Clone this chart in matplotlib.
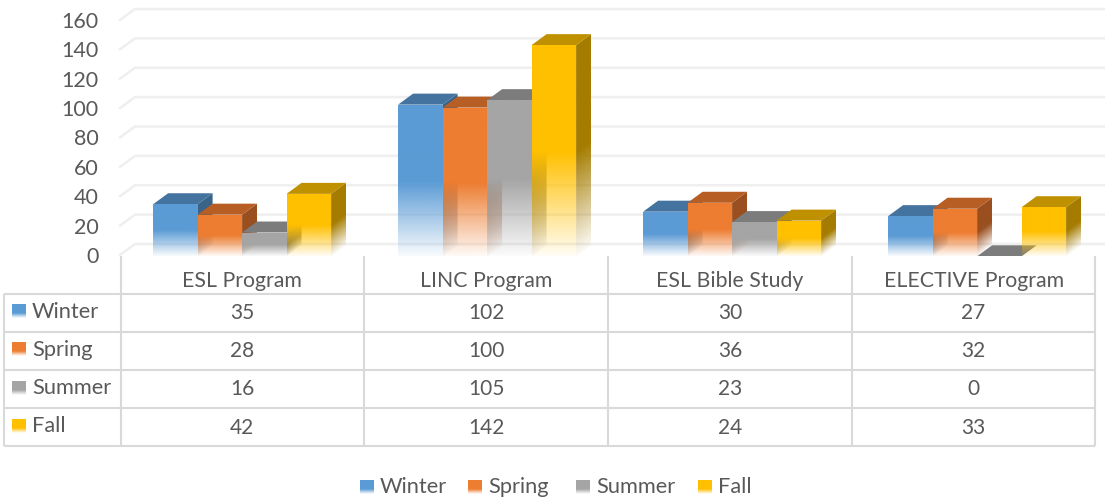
import numpy as np
import matplotlib
matplotlib.use('Agg')
from matplotlib import pyplot as plt
from matplotlib.patches import Polygon

programs = ['ESL Program', 'LINC Program', 'ESL Bible Study', 'ELECTIVE Program']
seasons = ['Winter', 'Spring', 'Summer', 'Fall']
winter = [35, 102, 30, 27]
spring = [28, 100, 36, 32]
summer = [16, 105, 23, 0]
fall = [42, 142, 24, 33]
y_ticks = [0, 20, 40, 60, 80, 100, 120, 140, 160]
colors = ['#5B9BD5', '#ED7D31', '#A5A5A5', '#FFC000']
tops = ['#44739F', '#B75E25', '#7C7C7C', '#BF9000']
sides = ['#3A6489', '#9A4F1F', '#6A6A6A', '#A57C00']

plt.rcParams['font.family'] = ['Lato', 'DejaVu Sans']
TXT = '#595959'
LINE = '#D9D9D9'
GRID = '#EFEFEF'

# wall plane
CAT_PX = 244.0
UNIT_PX = 1.469
WALL_DX = 15 / CAT_PX
WALL_DY = 11 / UNIT_PX
# bars stand a bit closer to the viewer, so their scale is slightly bigger
BAR_CAT_PX = 245.0
BAR_UNIT_PX = 1.487
BAR_W = 44.5 / BAR_CAT_PX
DX = 15 / BAR_CAT_PX
DY = 11 / BAR_UNIT_PX
FADE = 0.49


def rgb_of(color):
    return np.array(matplotlib.colors.to_rgb(color))


# face with the alpha fade towards the floor, slope shears the fade on side faces
def fade_face(ax, pts, color, height, slope=0.0, x0=0.0, zorder=3):
    pts = np.array(pts)
    x1, x2 = pts[:, 0].min(), pts[:, 0].max()
    y1, y2 = pts[:, 1].min(), pts[:, 1].max()
    xs = np.linspace(x1, x2, 40)
    ys = np.linspace(y1, y2, 300)
    X, Y = np.meshgrid(xs, ys)
    h = Y - slope * (X - x0)
    alpha = np.clip(0.04 + 0.96 * h / (FADE * height), 0.04, 1)
    img = np.zeros(X.shape + (4,))
    img[..., :3] = rgb_of(color)
    img[..., 3] = alpha
    im = ax.imshow(img, extent=(x1, x2, y1, y2), origin='lower', aspect='auto',
                   interpolation='bilinear', zorder=zorder)
    clip = Polygon(pts, transform=ax.transData, fill=False, edgecolor='none')
    ax.add_patch(clip)
    im.set_clip_path(clip)


def draw_bar(ax, x, v, i, zorder):
    # side, top, then front
    if v > 0:
        fade_face(ax, [(x + BAR_W, 0), (x + BAR_W + DX, DY), (x + BAR_W + DX, v + DY), (x + BAR_W, v)],
                  sides[i], v, slope=DY / DX, x0=x + BAR_W, zorder=zorder)
    ax.add_patch(Polygon([(x, v), (x + DX, v + DY), (x + BAR_W + DX, v + DY), (x + BAR_W, v)],
                         facecolor=tops[i], edgecolor='none', zorder=zorder))
    if v > 0:
        fade_face(ax, [(x, 0), (x + BAR_W, 0), (x + BAR_W, v), (x, v)], colors[i], v, zorder=zorder)


fig = plt.figure(figsize=(11.05, 5.0), dpi=100)
ax = fig.add_axes([120 / 1105, 245 / 500, 985 / 1105, 255 / 500])
ax.set_autoscale_on(False)
ax.set_xlim(0, 985 / CAT_PX)
ax.set_ylim(0, 255 / UNIT_PX)
for s in ax.spines.values():
    s.set_visible(False)
ax.set_yticks(y_ticks)
ax.set_xticks(np.arange(len(programs)) + 0.5)
ax.set_xticklabels(programs)
ax.tick_params(axis='y', length=0, pad=15.5, labelsize=15.5, labelcolor=TXT)
ax.tick_params(axis='x', length=0, pad=11.5, labelsize=15.3, labelcolor=TXT)

# back wall lines
for t in y_ticks:
    ax.plot([0, WALL_DX, 985 / CAT_PX], [t, t + WALL_DY, t + WALL_DY], color=GRID, lw=1.8, zorder=1,
            clip_on=False, solid_joinstyle='miter')

# bars
bx = fig.add_axes([119.6 / 1105, (500 - 256.3) / 500, 984.7 / 1105, 256.3 / 500], facecolor='none')
bx.set_autoscale_on(False)
bx.set_xlim(0, 984.7 / BAR_CAT_PX)
bx.set_ylim(0, 256.3 / BAR_UNIT_PX)
bx.axis('off')
series = [winter, spring, summer, fall]
for c in range(len(programs)):
    start = c + 0.5 - 2 * BAR_W
    for i, vals in enumerate(series):
        draw_bar(bx, start + i * BAR_W, vals[c], i, 3 + i)

# data table, pixel coordinates
tb = fig.add_axes([0, 0, 1, 1], facecolor='none')
tb.set_xlim(0, 1105)
tb.set_ylim(500, 0)
tb.axis('off')
tb.set_autoscale_on(False)
col_x = [120.5, 364, 608, 852, 1095]
row_y = [293.5, 331.5, 369.5, 408, 446]
for x in col_x:
    tb.plot([x, x], [256, row_y[-1]], color=LINE, lw=1.5, solid_capstyle='butt')
for y in row_y:
    tb.plot([4, col_x[-1]], [y, y], color=LINE, lw=1.5, solid_capstyle='butt')
tb.plot([4, 4], [row_y[0], row_y[-1]], color=LINE, lw=1.5, solid_capstyle='butt')


def swatch(x, y, color):
    img = np.zeros((30, 1, 4))
    img[..., :3] = rgb_of(color)
    img[:, 0, 3] = np.clip((1 - np.linspace(0, 1, 30)) / 0.35, 0.05, 1)
    tb.imshow(img, extent=(x, x + 14, y + 14, y), aspect='auto', origin='upper', interpolation='bilinear')


for r, name in enumerate(seasons):
    yc = (row_y[r] + row_y[r + 1]) / 2
    swatch(12, yc - 8, colors[r])
    tb.text(32, yc - 0.5, name, color=TXT, fontsize=15.7, va='center', ha='left')
    for c in range(len(programs)):
        tb.text((col_x[c] + col_x[c + 1]) / 2, yc + 0.5, str(series[r][c]), color=TXT,
                fontsize=15, va='center', ha='center')

# legend at the bottom
leg_x = [360, 468, 576, 698]
for name, x, color in zip(seasons, leg_x, colors):
    swatch(x, 480, color)
    tb.text(x + 20, 487, name, color=TXT, fontsize=15.7, va='center', ha='left')

fig.savefig('out.png', dpi=100)
